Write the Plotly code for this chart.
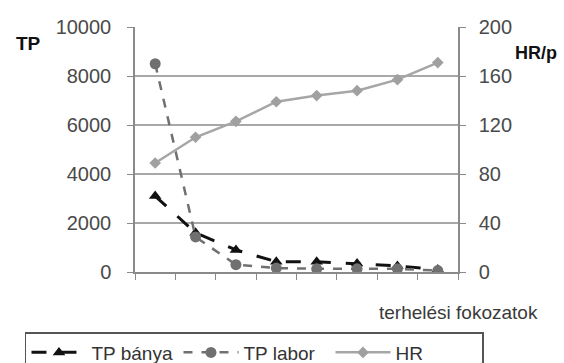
import plotly.graph_objects as go

# load stages (categories) and measured values
stages = [1, 2, 3, 4, 5, 6, 7, 8]
tp_banya = [3100, 1600, 900, 420, 420, 350, 250, 100]
tp_labor = [8500, 1430, 300, 160, 130, 130, 130, 60]
hr = [89, 110, 123, 139, 144, 148, 157, 171]

left_ticks = [0, 2000, 4000, 6000, 8000, 10000]
left_labels = ["0", "2000", "4000", "6000", "8000", "10000"]
right_ticks = [0, 40, 80, 120, 160, 200]

x = list(range(len(stages)))
font = "Liberation Sans, Arial, sans-serif"
grid = "#a8a8a8"
axis = "#8a8a8a"

fig = go.Figure()
fig.add_trace(go.Scatter(
    x=x, y=tp_banya, name="TP bánya", mode="lines+markers",
    line=dict(color="#111111", width=3, dash="longdash"),
    marker=dict(symbol="triangle-up", size=11, color="#111111"),
))
fig.add_trace(go.Scatter(
    x=x, y=tp_labor, name="TP labor", mode="lines+markers",
    line=dict(color="#707070", width=2.5, dash="dash"),
    marker=dict(symbol="circle", size=11, color="#707070"),
))
fig.add_trace(go.Scatter(
    x=x, y=hr, name="HR", mode="lines+markers", yaxis="y2",
    line=dict(color="#a6a6a6", width=2.5),
    marker=dict(symbol="diamond", size=9, color="#a0a0a0"),
))

fig.update_layout(
    width=564, height=363,
    margin=dict(l=135, r=106, t=27, b=91, autoexpand=False),
    paper_bgcolor="white", plot_bgcolor="white",
    font=dict(family=font, size=19, color="#3a3a3a"),
    xaxis=dict(
        range=[-0.5, len(stages) - 0.5], tickmode="linear", tick0=-0.5, dtick=1,
        showticklabels=False, ticks="outside", ticklen=6, tickcolor=axis,
        showgrid=False, zeroline=False, showline=True, linecolor=axis, linewidth=1.5,
    ),
    yaxis=dict(
        range=[0, 10000], tickvals=left_ticks, ticktext=left_labels,
        ticks="outside", ticklen=6, ticklabelstandoff=12,
        tickcolor=axis, showgrid=True, gridcolor=grid, gridwidth=1.5,
        zeroline=False, showline=True, linecolor=axis, linewidth=1.5,
        tickfont=dict(size=20, color="#4a4a4a"),
    ),
    yaxis2=dict(
        range=[0, 200], tickvals=right_ticks, overlaying="y", side="right",
        ticks="outside", ticklen=6, ticklabelstandoff=9, tickcolor=axis,
        showgrid=False, zeroline=False, showline=True, linecolor=axis, linewidth=1.5,
        tickfont=dict(size=20, color="#4a4a4a"),
    ),
    showlegend=True,
    legend=dict(
        orientation="h", x=-0.3406, xanchor="left", y=-0.245, yanchor="top",
        bordercolor="#555555", borderwidth=1.5,
        font=dict(size=19, color="#333333"), itemwidth=55,
        entrywidth=82, entrywidthmode="pixels", tracegroupgap=0,
    ),
    annotations=[
        dict(text="<b>TP</b>", xref="paper", yref="paper", x=-0.331, y=0.931,
             xanchor="center", yanchor="middle", showarrow=False,
             font=dict(size=19, color="#111111")),
        dict(text="<b>HR/p</b>", xref="paper", yref="paper", x=1.241, y=0.894,
             xanchor="center", yanchor="middle", showarrow=False,
             font=dict(size=18, color="#111111")),
        dict(text="terhelési fokozatok", xref="paper", yref="paper", x=1.254, y=-0.167,
             xanchor="right", yanchor="middle", showarrow=False,
             font=dict(size=19, color="#3a3a3a")),
    ],
)

fig.write_html("out.html")
